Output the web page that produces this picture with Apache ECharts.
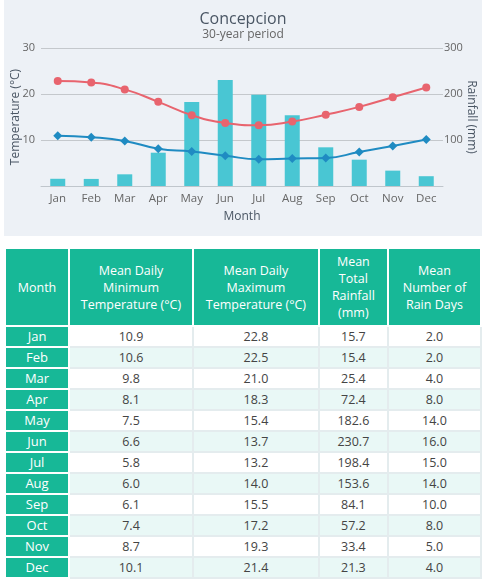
<!DOCTYPE html>
<html>
<head>
<meta charset="utf-8">
<script src="https://cdn.jsdelivr.net/npm/echarts@6/dist/echarts.min.js"></script>
<style>
body{margin:0;background:#fff;font-family:"Open Sans",sans-serif;}
#main{position:absolute;left:4px;top:0;width:478px;height:236px;}
#tbl{position:absolute;left:4px;top:247px;border-collapse:collapse;border:2px solid #e4ecee;font-size:12.5px;color:#444;}
#tbl th{background:#17b897;color:#fff;font-weight:normal;border:2px solid #fff;line-height:17px;height:76px;padding:0 2px;}
#tbl td{border:2px solid #e4ecee;height:19px;line-height:17px;padding:0;text-align:center;}
#tbl td.m{background:#17b897;color:#fff;border-color:#fff;font-size:13px;}
#tbl tr.odd td{background:#fff;}
#tbl tr.even td{background:#e9f8f6;}
#tbl tr td.m{background:#17b897;}
</style>
</head>
<body>
<div id="main"></div>
<table id="tbl"></table>
<script>
// 数据
var months   = ['Jan','Feb','Mar','Apr','May','Jun','Jul','Aug','Sep','Oct','Nov','Dec'];
var minTemp  = [10.9,10.6,9.8,8.1,7.5,6.6,5.8,6.0,6.1,7.4,8.7,10.1];
var maxTemp  = [22.8,22.5,21.0,18.3,15.4,13.7,13.2,14.0,15.5,17.2,19.3,21.4];
var rainfall = [15.7,15.4,25.4,72.4,182.6,230.7,198.4,153.6,84.1,57.2,33.4,21.3];
var rainDays = [2.0,2.0,4.0,8.0,14.0,16.0,15.0,14.0,10.0,8.0,5.0,4.0];
var headers  = ['Month','Mean Daily<br>Minimum<br>Temperature (°C)','Mean Daily<br>Maximum<br>Temperature (°C)','Mean<br>Total<br>Rainfall<br>(mm)','Mean<br>Number of<br>Rain Days'];
var colWidths = [59,120,122,64,89];

var txtColor = '#4a5664';
var option = {
	backgroundColor:'#edf1f6',
	textStyle:{fontFamily:'Open Sans'},
	title:{
		text:'Concepcion',
		subtext:'30-year period',
		left:'center',
		top:6,
		itemGap:2,
		textStyle:{fontSize:16,fontWeight:'normal',color:txtColor},
		subtextStyle:{fontSize:12,color:'#666'}
	},
	grid:{left:37,right:39,top:48,height:138,outerBoundsMode:'none',containLabel:false},
	xAxis:[{
		type:'category',
		data:months,
		name:'Month',
		nameLocation:'middle',
		nameGap:25,
		nameMoveOverlap:false,
		nameTextStyle:{fontSize:12,color:txtColor},
		axisLine:{lineStyle:{color:'#c0c6cc'}},
		axisTick:{length:5,lineStyle:{color:'#c0c6cc'}},
		axisLabel:{color:'#666',fontSize:11.5,margin:7}
	}],
	yAxis:[
		{
			type:'value',min:0,max:30,interval:10,
			name:'Temperature (°C)',
			nameLocation:'middle',
			nameGap:19,
			nameMoveOverlap:false,
			nameTextStyle:{fontSize:12,color:txtColor},
			axisLabel:{color:'#666',fontSize:11,margin:6,formatter:function(v){return v===0?'':v;}},
			splitLine:{lineStyle:{color:'#c4c8cc'}}
		},
		{
			type:'value',min:0,max:300,interval:100,
			name:'Rainfall (mm)',
			nameLocation:'middle',
			nameGap:22,
			nameMoveOverlap:false,
			nameRotate:-90,
			nameTextStyle:{fontSize:12,color:txtColor},
			axisLabel:{color:'#666',fontSize:11,margin:1,formatter:function(v){return v===0?'':v;}},
			splitLine:{show:false}
		}
	],
	series:[
		{
			name:'Rainfall',
			type:'bar',
			yAxisIndex:1,
			barWidth:15,
			itemStyle:{color:'#49c6d3'},
			data:rainfall,
			z:1
		},
		{
			name:'Max',
			type:'line',
			smooth:true,
			symbol:'circle',
			symbolSize:8,
			lineStyle:{width:2,color:'#e8646e'},
			itemStyle:{color:'#e8646e'},
			data:maxTemp,
			z:3
		},
		{
			name:'Min',
			type:'line',
			smooth:true,
			symbol:'diamond',
			symbolSize:9,
			lineStyle:{width:2,color:'#1f8bc2'},
			itemStyle:{color:'#1f8bc2'},
			data:minTemp,
			z:3
		}
	]
};
echarts.init(document.getElementById('main')).setOption(option);

// 表格
var html = '<tr>';
for(var i=0;i<headers.length;i++){
	html += '<th style="width:'+colWidths[i]+'px">'+headers[i]+'</th>';
}
html += '</tr>';
for(var i=0;i<months.length;i++){
	html += '<tr class="'+(i%2==0?'odd':'even')+'">';
	html += '<td class="m">'+months[i]+'</td>';
	html += '<td>'+minTemp[i].toFixed(1)+'</td>';
	html += '<td>'+maxTemp[i].toFixed(1)+'</td>';
	html += '<td>'+rainfall[i].toFixed(1)+'</td>';
	html += '<td>'+rainDays[i].toFixed(1)+'</td>';
	html += '</tr>';
}
document.getElementById('tbl').innerHTML = html;
</script>
</body>
</html>
